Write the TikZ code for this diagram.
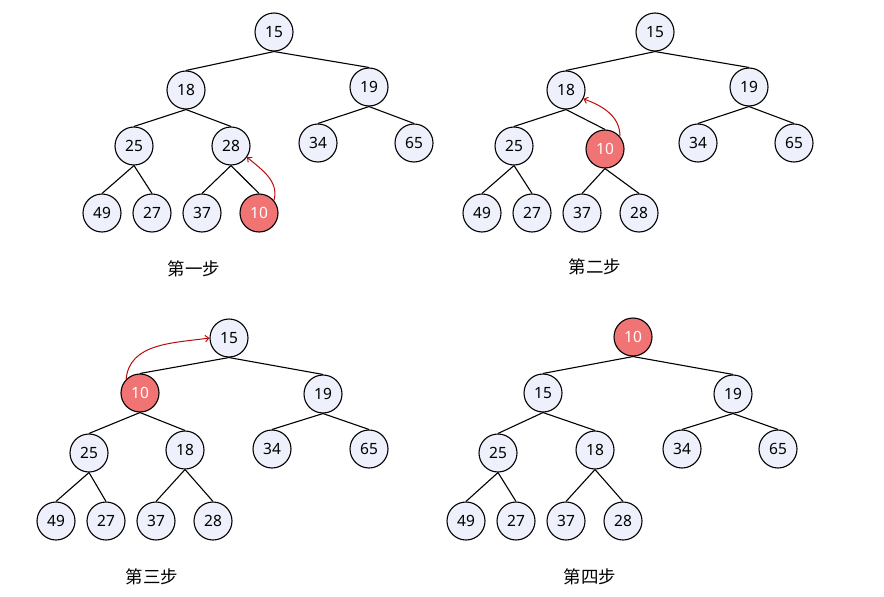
\documentclass[tikz,border=0pt]{standalone}
\usepackage{fontspec}
\setmainfont{Noto Sans}
\newfontfamily\cjk{Noto Sans CJK SC}
\usetikzlibrary{arrows.meta}
\definecolor{nodefill}{HTML}{EEF0FC}
\definecolor{hotfill}{HTML}{F07474}
\definecolor{arrowred}{HTML}{B80D0D}
\tikzset{
  hnode/.style={circle, draw=black, line width=1.1pt, fill=nodefill, minimum size=38pt, inner sep=0pt, font=\fontsize{15.5}{17}\selectfont},
  hot/.style={hnode, fill=hotfill, text=white},
  edge/.style={draw=black, line width=1.1pt},
  move/.style={draw=arrowred, line width=1pt, -{Straight Barb[length=3.5pt,width=6.5pt]}},
  steplabel/.style={font=\cjk\fontsize{17.5}{19}\selectfont}
}
\begin{document}
\begin{tikzpicture}[x=1pt,y=-1pt]
\useasboundingbox (0,0) rectangle (884,597);
% ---------- panel 1 ----------
\node[hnode] (a1) at (274,32) {15};
\node[hnode] (a2) at (186,90) {18};
\node[hnode] (a3) at (369,87) {19};
\node[hnode] (a4) at (134,146) {25};
\node[hnode] (a5) at (231,146) {28};
\node[hnode] (a6) at (318,143) {34};
\node[hnode] (a7) at (414,143) {65};
\node[hnode] (a8) at (102,213) {49};
\node[hnode] (a9) at (152,213) {27};
\node[hnode] (a10) at (202,213) {37};
\node[hot] (a11) at (259,213) {10};
\node[steplabel] (la) at (194,269) {第一步};
\foreach \p/\c in {a1/a2,a1/a3,a2/a4,a2/a5,a3/a6,a3/a7,a4/a8,a4/a9,a5/a10,a5/a11}
  \draw[edge] (\p.south) -- (\c.north);
\draw[move] (a11.40) to[out=75,in=-40] (a5.-35);
% ---------- panel 2 ----------
\node[hnode] (b1) at (655,32) {15};
\node[hnode] (b2) at (566,90) {18};
\node[hnode] (b3) at (749,87) {19};
\node[hnode] (b4) at (514,146) {25};
\node[hot] (b5) at (605,149) {10};
\node[hnode] (b6) at (698,143) {34};
\node[hnode] (b7) at (794,143) {65};
\node[hnode] (b8) at (482,213) {49};
\node[hnode] (b9) at (532,213) {27};
\node[hnode] (b10) at (582,213) {37};
\node[hnode] (b11) at (639,213) {28};
\node[steplabel] (lb) at (595,267) {第二步};
\foreach \p/\c in {b1/b2,b1/b3,b2/b4,b2/b5,b3/b6,b3/b7,b4/b8,b4/b9,b5/b10,b5/b11}
  \draw[edge] (\p.south) -- (\c.north);
\draw[move] (b5.40) to[out=90,in=-20] (b2.-27);
% ---------- panel 3 ----------
\node[hnode] (c1) at (229,338) {15};
\node[hot] (c2) at (140,393) {10};
\node[hnode] (c3) at (323,394) {19};
\node[hnode] (c4) at (89,453) {25};
\node[hnode] (c5) at (185,450) {18};
\node[hnode] (c6) at (272,449) {34};
\node[hnode] (c7) at (369,449) {65};
\node[hnode] (c8) at (56,521) {49};
\node[hnode] (c9) at (106,521) {27};
\node[hnode] (c10) at (156,521) {37};
\node[hnode] (c11) at (213,521) {28};
\node[steplabel] (lc) at (152,577) {第三步};
\foreach \p/\c in {c1/c2,c1/c3,c2/c4,c2/c5,c3/c6,c3/c7,c4/c8,c4/c9,c5/c10,c5/c11}
  \draw[edge] (\p.south) -- (\c.north);
\draw[move] (c2.135) to[out=85,in=188] (c1.180);
% ---------- panel 4 ----------
\node[hot] (d1) at (633,337) {10};
\node[hnode] (d2) at (543,393) {15};
\node[hnode] (d3) at (733,394) {19};
\node[hnode] (d4) at (498,453) {25};
\node[hnode] (d5) at (595,450) {18};
\node[hnode] (d6) at (682,449) {34};
\node[hnode] (d7) at (778,449) {65};
\node[hnode] (d8) at (466,521) {49};
\node[hnode] (d9) at (516,521) {27};
\node[hnode] (d10) at (566,521) {37};
\node[hnode] (d11) at (623,521) {28};
\node[steplabel] (ld) at (590,577) {第四步};
\foreach \p/\c in {d1/d2,d1/d3,d2/d4,d2/d5,d3/d6,d3/d7,d4/d8,d4/d9,d5/d10,d5/d11}
  \draw[edge] (\p.south) -- (\c.north);
\end{tikzpicture}
\end{document}
